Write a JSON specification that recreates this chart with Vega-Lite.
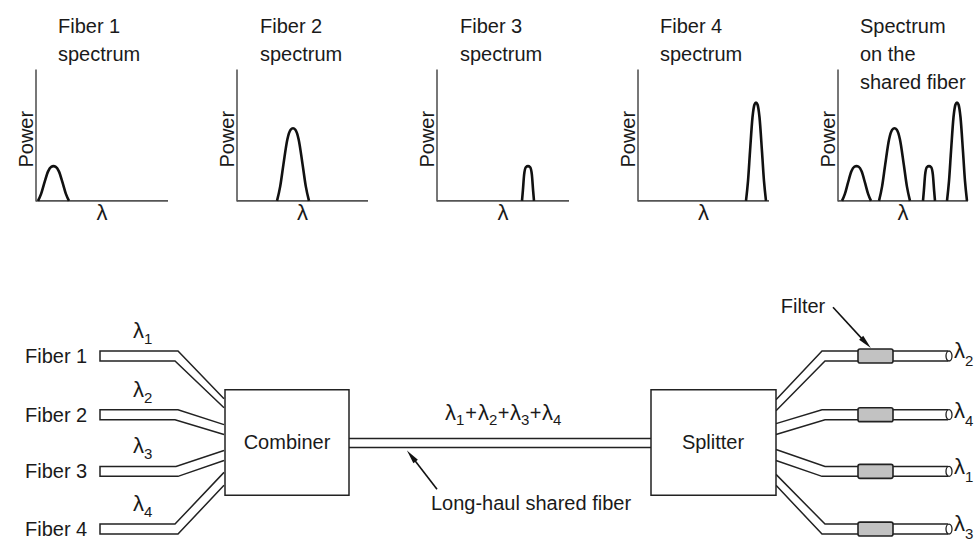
{
  "$schema": "https://vega.github.io/schema/vega-lite/v6.json",
  "width": 974,
  "height": 542,
  "autosize": {"type": "fit", "contains": "padding"},
  "padding": 0,
  "background": "white",
  "config": {"view": {"stroke": null}, "text": {"font": "Liberation Sans", "color": "#1a1a1a"}},
  "datasets": {
    "axes": [
      {"x": 36, "y": 70, "x2": 36, "y2": 202.5}, {"x": 36, "y": 202, "x2": 168, "y2": 202},
      {"x": 237, "y": 70, "x2": 237, "y2": 202.5}, {"x": 237, "y": 202, "x2": 368, "y2": 202},
      {"x": 437, "y": 70, "x2": 437, "y2": 202.5}, {"x": 437, "y": 202, "x2": 569, "y2": 202},
      {"x": 638, "y": 70, "x2": 638, "y2": 202.5}, {"x": 638, "y": 202, "x2": 769, "y2": 202},
      {"x": 838, "y": 70, "x2": 838, "y2": 202.5}, {"x": 838, "y": 202, "x2": 968, "y2": 202}
    ],
    "peaks": [
      {"peak": "f1", "seq": 1, "x": 38, "y": 202}, {"peak": "f1", "seq": 2, "x": 41.1, "y": 195}, {"peak": "f1", "seq": 3, "x": 44.2, "y": 184.5}, {"peak": "f1", "seq": 4, "x": 48.1, "y": 172.3}, {"peak": "f1", "seq": 5, "x": 51.2, "y": 167.7}, {"peak": "f1", "seq": 6, "x": 53.5, "y": 167}, {"peak": "f1", "seq": 7, "x": 55.8, "y": 167.7}, {"peak": "f1", "seq": 8, "x": 58.9, "y": 172.3}, {"peak": "f1", "seq": 9, "x": 62.8, "y": 184.5}, {"peak": "f1", "seq": 10, "x": 65.9, "y": 195}, {"peak": "f1", "seq": 11, "x": 69, "y": 202},
      {"peak": "f2", "seq": 1, "x": 277, "y": 202}, {"peak": "f2", "seq": 2, "x": 280.2, "y": 187.4}, {"peak": "f2", "seq": 3, "x": 283.4, "y": 165.5}, {"peak": "f2", "seq": 4, "x": 287.4, "y": 140}, {"peak": "f2", "seq": 5, "x": 290.6, "y": 130.5}, {"peak": "f2", "seq": 6, "x": 293, "y": 129}, {"peak": "f2", "seq": 7, "x": 295.4, "y": 130.5}, {"peak": "f2", "seq": 8, "x": 298.6, "y": 140}, {"peak": "f2", "seq": 9, "x": 302.6, "y": 165.5}, {"peak": "f2", "seq": 10, "x": 305.8, "y": 187.4}, {"peak": "f2", "seq": 11, "x": 309, "y": 202},
      {"peak": "f3", "seq": 1, "x": 522, "y": 202}, {"peak": "f3", "seq": 2, "x": 522.9, "y": 191.5}, {"peak": "f3", "seq": 3, "x": 524.1, "y": 175.8}, {"peak": "f3", "seq": 4, "x": 525.9, "y": 168}, {"peak": "f3", "seq": 5, "x": 528, "y": 167}, {"peak": "f3", "seq": 6, "x": 530.1, "y": 168}, {"peak": "f3", "seq": 7, "x": 531.9, "y": 175.8}, {"peak": "f3", "seq": 8, "x": 533.1, "y": 191.5}, {"peak": "f3", "seq": 9, "x": 534, "y": 202},
      {"peak": "f4", "seq": 1, "x": 746, "y": 202}, {"peak": "f4", "seq": 2, "x": 748, "y": 182.2}, {"peak": "f4", "seq": 3, "x": 750, "y": 152.5}, {"peak": "f4", "seq": 4, "x": 752.5, "y": 117.9}, {"peak": "f4", "seq": 5, "x": 754.5, "y": 105}, {"peak": "f4", "seq": 6, "x": 756, "y": 103}, {"peak": "f4", "seq": 7, "x": 757.5, "y": 105}, {"peak": "f4", "seq": 8, "x": 759.5, "y": 117.9}, {"peak": "f4", "seq": 9, "x": 762, "y": 152.5}, {"peak": "f4", "seq": 10, "x": 764, "y": 182.2}, {"peak": "f4", "seq": 11, "x": 766, "y": 202},
      {"peak": "s1", "seq": 1, "x": 842, "y": 202}, {"peak": "s1", "seq": 2, "x": 844.9, "y": 195}, {"peak": "s1", "seq": 3, "x": 847.8, "y": 184.5}, {"peak": "s1", "seq": 4, "x": 851.4, "y": 172.3}, {"peak": "s1", "seq": 5, "x": 854.3, "y": 167.7}, {"peak": "s1", "seq": 6, "x": 856.5, "y": 167}, {"peak": "s1", "seq": 7, "x": 858.7, "y": 167.7}, {"peak": "s1", "seq": 8, "x": 861.6, "y": 172.3}, {"peak": "s1", "seq": 9, "x": 865.2, "y": 184.5}, {"peak": "s1", "seq": 10, "x": 868.1, "y": 195}, {"peak": "s1", "seq": 11, "x": 871, "y": 202},
      {"peak": "s2", "seq": 1, "x": 879, "y": 202}, {"peak": "s2", "seq": 2, "x": 882.1, "y": 187.4}, {"peak": "s2", "seq": 3, "x": 885.2, "y": 165.5}, {"peak": "s2", "seq": 4, "x": 889.1, "y": 140}, {"peak": "s2", "seq": 5, "x": 892.2, "y": 130.5}, {"peak": "s2", "seq": 6, "x": 894.5, "y": 129}, {"peak": "s2", "seq": 7, "x": 896.8, "y": 130.5}, {"peak": "s2", "seq": 8, "x": 899.9, "y": 140}, {"peak": "s2", "seq": 9, "x": 903.8, "y": 165.5}, {"peak": "s2", "seq": 10, "x": 906.9, "y": 187.4}, {"peak": "s2", "seq": 11, "x": 910, "y": 202},
      {"peak": "s3", "seq": 1, "x": 923, "y": 202}, {"peak": "s3", "seq": 2, "x": 923.9, "y": 191.5}, {"peak": "s3", "seq": 3, "x": 925.1, "y": 175.8}, {"peak": "s3", "seq": 4, "x": 926.9, "y": 168}, {"peak": "s3", "seq": 5, "x": 929, "y": 167}, {"peak": "s3", "seq": 6, "x": 931.1, "y": 168}, {"peak": "s3", "seq": 7, "x": 932.9, "y": 175.8}, {"peak": "s3", "seq": 8, "x": 934.1, "y": 191.5}, {"peak": "s3", "seq": 9, "x": 935, "y": 202},
      {"peak": "s4", "seq": 1, "x": 947, "y": 202}, {"peak": "s4", "seq": 2, "x": 949, "y": 182.2}, {"peak": "s4", "seq": 3, "x": 951, "y": 152.5}, {"peak": "s4", "seq": 4, "x": 953.5, "y": 117.9}, {"peak": "s4", "seq": 5, "x": 955.5, "y": 105}, {"peak": "s4", "seq": 6, "x": 957, "y": 103}, {"peak": "s4", "seq": 7, "x": 958.5, "y": 105}, {"peak": "s4", "seq": 8, "x": 960.5, "y": 117.9}, {"peak": "s4", "seq": 9, "x": 963, "y": 152.5}, {"peak": "s4", "seq": 10, "x": 965, "y": 182.2}, {"peak": "s4", "seq": 11, "x": 967, "y": 202}
    ],
    "tubes": [
      {"path": "in1", "seq": 1, "x": 224, "y": 401}, {"path": "in1", "seq": 2, "x": 178, "y": 353}, {"path": "in1", "seq": 3, "x": 100, "y": 353}, {"path": "in1", "seq": 4, "x": 100, "y": 363}, {"path": "in1", "seq": 5, "x": 175, "y": 363}, {"path": "in1", "seq": 6, "x": 224, "y": 410},
      {"path": "in2", "seq": 1, "x": 224, "y": 427}, {"path": "in2", "seq": 2, "x": 178, "y": 412}, {"path": "in2", "seq": 3, "x": 100, "y": 412}, {"path": "in2", "seq": 4, "x": 100, "y": 422}, {"path": "in2", "seq": 5, "x": 175, "y": 422}, {"path": "in2", "seq": 6, "x": 224, "y": 437},
      {"path": "in3", "seq": 1, "x": 224, "y": 453}, {"path": "in3", "seq": 2, "x": 176, "y": 469}, {"path": "in3", "seq": 3, "x": 100, "y": 469}, {"path": "in3", "seq": 4, "x": 100, "y": 479}, {"path": "in3", "seq": 5, "x": 178, "y": 479}, {"path": "in3", "seq": 6, "x": 224, "y": 463},
      {"path": "in4", "seq": 1, "x": 224, "y": 475}, {"path": "in4", "seq": 2, "x": 175, "y": 527}, {"path": "in4", "seq": 3, "x": 100, "y": 527}, {"path": "in4", "seq": 4, "x": 100, "y": 537}, {"path": "in4", "seq": 5, "x": 178, "y": 537}, {"path": "in4", "seq": 6, "x": 224, "y": 488},
      {"path": "o1t", "seq": 1, "x": 776, "y": 402}, {"path": "o1t", "seq": 2, "x": 822, "y": 353}, {"path": "o1t", "seq": 3, "x": 948, "y": 353},
      {"path": "o1b", "seq": 1, "x": 776, "y": 413}, {"path": "o1b", "seq": 2, "x": 825, "y": 363}, {"path": "o1b", "seq": 3, "x": 948, "y": 363},
      {"path": "o2t", "seq": 1, "x": 776, "y": 426}, {"path": "o2t", "seq": 2, "x": 822, "y": 412}, {"path": "o2t", "seq": 3, "x": 948, "y": 412},
      {"path": "o2b", "seq": 1, "x": 776, "y": 437}, {"path": "o2b", "seq": 2, "x": 825, "y": 422}, {"path": "o2b", "seq": 3, "x": 948, "y": 422},
      {"path": "o3t", "seq": 1, "x": 776, "y": 452}, {"path": "o3t", "seq": 2, "x": 825, "y": 469}, {"path": "o3t", "seq": 3, "x": 948, "y": 469},
      {"path": "o3b", "seq": 1, "x": 776, "y": 463}, {"path": "o3b", "seq": 2, "x": 822, "y": 479}, {"path": "o3b", "seq": 3, "x": 948, "y": 479},
      {"path": "o4t", "seq": 1, "x": 776, "y": 477}, {"path": "o4t", "seq": 2, "x": 825, "y": 527}, {"path": "o4t", "seq": 3, "x": 948, "y": 527},
      {"path": "o4b", "seq": 1, "x": 776, "y": 488}, {"path": "o4b", "seq": 2, "x": 822, "y": 537}, {"path": "o4b", "seq": 3, "x": 948, "y": 537}
    ],
    "shared": [
      {"x": 349, "y": 441, "x2": 651, "y2": 441},
      {"x": 349, "y": 450, "x2": 651, "y2": 450}
    ],
    "boxes": [
      {"x": 225, "x2": 349, "y": 392, "y2": 498},
      {"x": 651, "x2": 776, "y": 392, "y2": 498}
    ],
    "filters": [
      {"x": 858, "x2": 893, "y": 351, "y2": 365},
      {"x": 858, "x2": 893, "y": 410, "y2": 424},
      {"x": 858, "x2": 893, "y": 467, "y2": 481},
      {"x": 858, "x2": 893, "y": 525, "y2": 539}
    ],
    "caps": [
      {"x": 949, "y": 358}, {"x": 949, "y": 417}, {"x": 949, "y": 474}, {"x": 949, "y": 532}
    ],
    "shafts": [
      {"x": 437, "y": 492, "x2": 411, "y2": 458},
      {"x": 833, "y": 309, "x2": 866, "y2": 345}
    ],
    "head1": [{"x": 411.3, "y": 458.5}],
    "head2": [{"x": 866, "y": 344.8}],
    "textLeft": [
      {"label": "Fiber 1", "x": 58, "y": 33}, {"label": "spectrum", "x": 58, "y": 61},
      {"label": "Fiber 2", "x": 260, "y": 33}, {"label": "spectrum", "x": 260, "y": 61},
      {"label": "Fiber 3", "x": 460, "y": 33}, {"label": "spectrum", "x": 460, "y": 61},
      {"label": "Fiber 4", "x": 660, "y": 33}, {"label": "spectrum", "x": 660, "y": 61},
      {"label": "Spectrum", "x": 860, "y": 33}, {"label": "on the", "x": 860, "y": 61}, {"label": "shared fiber", "x": 860, "y": 89},
      {"label": "Fiber 1", "x": 25, "y": 365}, {"label": "Fiber 2", "x": 25, "y": 424},
      {"label": "Fiber 3", "x": 25, "y": 481}, {"label": "Fiber 4", "x": 25, "y": 539}
    ],
    "lambdas": [
      {"label": "λ", "x": 133, "y": 340}, {"label": "λ", "x": 133, "y": 399},
      {"label": "λ", "x": 133, "y": 456}, {"label": "λ", "x": 133, "y": 514},
      {"label": "λ", "x": 954, "y": 360}, {"label": "λ", "x": 954, "y": 420},
      {"label": "λ", "x": 954, "y": 477}, {"label": "λ", "x": 954, "y": 534},
      {"label": "λ", "x": 445, "y": 422}, {"label": "λ", "x": 478, "y": 422},
      {"label": "λ", "x": 510, "y": 422}, {"label": "λ", "x": 542, "y": 422}
    ],
    "subs": [
      {"label": "1", "x": 144, "y": 346}, {"label": "2", "x": 144, "y": 405},
      {"label": "3", "x": 144, "y": 462}, {"label": "4", "x": 144, "y": 520},
      {"label": "2", "x": 965, "y": 368}, {"label": "4", "x": 965, "y": 428},
      {"label": "1", "x": 965, "y": 485}, {"label": "3", "x": 965, "y": 542},
      {"label": "1", "x": 456, "y": 427}, {"label": "2", "x": 489, "y": 427},
      {"label": "3", "x": 521, "y": 427}, {"label": "4", "x": 553, "y": 427}
    ],
    "axisLambdas": [
      {"label": "λ", "x": 102, "y": 221}, {"label": "λ", "x": 302.5, "y": 221},
      {"label": "λ", "x": 503, "y": 221}, {"label": "λ", "x": 703.5, "y": 221},
      {"label": "λ", "x": 903, "y": 221}
    ],
    "textCenter": [
      {"label": "Combiner", "x": 287, "y": 452},
      {"label": "Splitter", "x": 713, "y": 452},
      {"label": "Long-haul shared fiber", "x": 531, "y": 513},
      {"label": "Filter", "x": 803, "y": 315},
      {"label": "+", "x": 471, "y": 422}, {"label": "+", "x": 503.5, "y": 422}, {"label": "+", "x": 535.5, "y": 422}
    ],
    "power": [
      {"label": "Power", "x": 32.5, "y": 140}, {"label": "Power", "x": 233.5, "y": 140},
      {"label": "Power", "x": 433.5, "y": 140}, {"label": "Power", "x": 634.5, "y": 140},
      {"label": "Power", "x": 834.5, "y": 140}
    ]
  },
  "encoding": {
    "x": {"field": "x", "type": "quantitative", "scale": {"domain": [0, 974], "nice": false, "zero": false}, "axis": null},
    "y": {"field": "y", "type": "quantitative", "scale": {"domain": [0, 542], "nice": false, "zero": false, "reverse": true}, "axis": null}
  },
  "layer": [
    {
      "data": {"name": "axes"},
      "mark": {"type": "rule", "stroke": "#555555", "strokeWidth": 1.6},
      "encoding": {"x2": {"field": "x2"}, "y2": {"field": "y2"}}
    },
    {
      "data": {"name": "peaks"},
      "mark": {"type": "line", "interpolate": "monotone", "stroke": "#111111", "strokeWidth": 2.6, "strokeJoin": "round"},
      "encoding": {"detail": {"field": "peak"}, "order": {"field": "seq", "type": "quantitative"}}
    },
    {
      "data": {"name": "tubes"},
      "mark": {"type": "line", "stroke": "#222222", "strokeWidth": 1.5},
      "encoding": {"detail": {"field": "path"}, "order": {"field": "seq", "type": "quantitative"}}
    },
    {
      "data": {"name": "shared"},
      "mark": {"type": "rule", "stroke": "#222222", "strokeWidth": 1.5},
      "encoding": {"x2": {"field": "x2"}, "y2": {"field": "y2"}}
    },
    {
      "data": {"name": "boxes"},
      "mark": {"type": "rect", "fill": "white", "stroke": "#222222", "strokeWidth": 1.5},
      "encoding": {"x2": {"field": "x2"}, "y2": {"field": "y2"}}
    },
    {
      "data": {"name": "filters"},
      "mark": {"type": "rect", "fill": "#c2c2c2", "stroke": "#222222", "strokeWidth": 1.6, "cornerRadius": 2},
      "encoding": {"x2": {"field": "x2"}, "y2": {"field": "y2"}}
    },
    {
      "data": {"name": "caps"},
      "mark": {"type": "point", "shape": "M0,-1A0.6,1 0 1,1 0,1A0.6,1 0 1,1 0,-1Z", "size": 100, "fill": "white", "stroke": "#222222", "strokeWidth": 1.3, "opacity": 1, "filled": false}
    },
    {
      "data": {"name": "shafts"},
      "mark": {"type": "rule", "stroke": "#111111", "strokeWidth": 1.6},
      "encoding": {"x2": {"field": "x2"}, "y2": {"field": "y2"}}
    },
    {
      "data": {"name": "head1"},
      "mark": {"type": "point", "shape": "M0,-1L0.4,1L-0.4,1Z", "size": 200, "angle": 322, "filled": true, "fill": "#111111", "opacity": 1}
    },
    {
      "data": {"name": "head2"},
      "mark": {"type": "point", "shape": "M0,-1L0.4,1L-0.4,1Z", "size": 200, "angle": 137, "filled": true, "fill": "#111111", "opacity": 1}
    },
    {
      "data": {"name": "textLeft"},
      "mark": {"type": "text", "align": "left", "baseline": "alphabetic", "fontSize": 20},
      "encoding": {"text": {"field": "label"}}
    },
    {
      "data": {"name": "lambdas"},
      "mark": {"type": "text", "align": "left", "baseline": "alphabetic", "fontSize": 22},
      "encoding": {"text": {"field": "label"}}
    },
    {
      "data": {"name": "subs"},
      "mark": {"type": "text", "align": "left", "baseline": "alphabetic", "fontSize": 15},
      "encoding": {"text": {"field": "label"}}
    },
    {
      "data": {"name": "axisLambdas"},
      "mark": {"type": "text", "align": "center", "baseline": "alphabetic", "fontSize": 22},
      "encoding": {"text": {"field": "label"}}
    },
    {
      "data": {"name": "textCenter"},
      "mark": {"type": "text", "align": "center", "baseline": "alphabetic", "fontSize": 20},
      "encoding": {"text": {"field": "label"}}
    },
    {
      "data": {"name": "power"},
      "mark": {"type": "text", "align": "center", "baseline": "alphabetic", "fontSize": 20, "angle": 270},
      "encoding": {"text": {"field": "label"}}
    }
  ]
}
